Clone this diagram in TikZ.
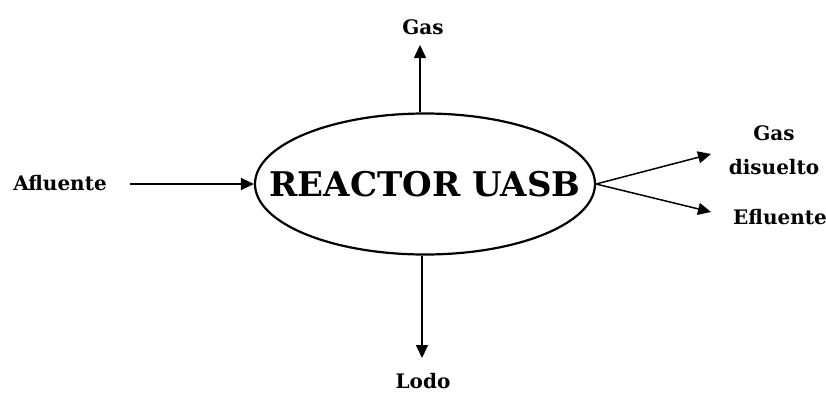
\documentclass[tikz,border=0pt]{standalone}
\usepackage{fontspec}
\setmainfont{DejaVu Serif}
\usetikzlibrary{arrows.meta,shapes.geometric}
\begin{document}
\begin{tikzpicture}[x=1pt,y=-1pt,
  lbl/.style={font=\bfseries\fontsize{20}{24}\selectfont, inner sep=0pt, align=center},
  arr/.style={line width=1.5pt, -{Triangle[length=13pt,width=12pt]}}]
\useasboundingbox (0,0) rectangle (826,392);
\node[draw, line width=2.2pt, ellipse, minimum width=340pt, minimum height=141pt, inner sep=0pt] (reactor) at (425,184) {};
\node[font=\bfseries\fontsize{34}{38}\selectfont, inner sep=0pt] (rtext) at (reactor.center) {REACTOR UASB};
\node[lbl] (gas) at (423,27) {Gas};
\node[lbl] (lodo) at (423,381) {Lodo};
\node[lbl] (afl) at (60,183) {Afluente};
\node[lbl, font=\bfseries\fontsize{20}{34}\selectfont] (gasdis) at (774,150) {Gas\\disuelto};
\node[lbl] (efl) at (780,217) {Efluente};
\coordinate (gtip) at (420,45);
\coordinate (ltip) at (422,358);
\coordinate (astart) at (130,184);
\coordinate (dtip) at (711,154);
\coordinate (etip) at (711,212);
\coordinate (rE) at (596,184);
\draw[arr] (reactor.north -| gtip) -- (gtip);
\draw[arr] (reactor.south -| ltip) -- (ltip);
\draw[arr] (astart) -- (reactor.west);
\draw[arr] (rE) -- (dtip);
\draw[arr] (rE) -- (etip);
\end{tikzpicture}
\end{document}
